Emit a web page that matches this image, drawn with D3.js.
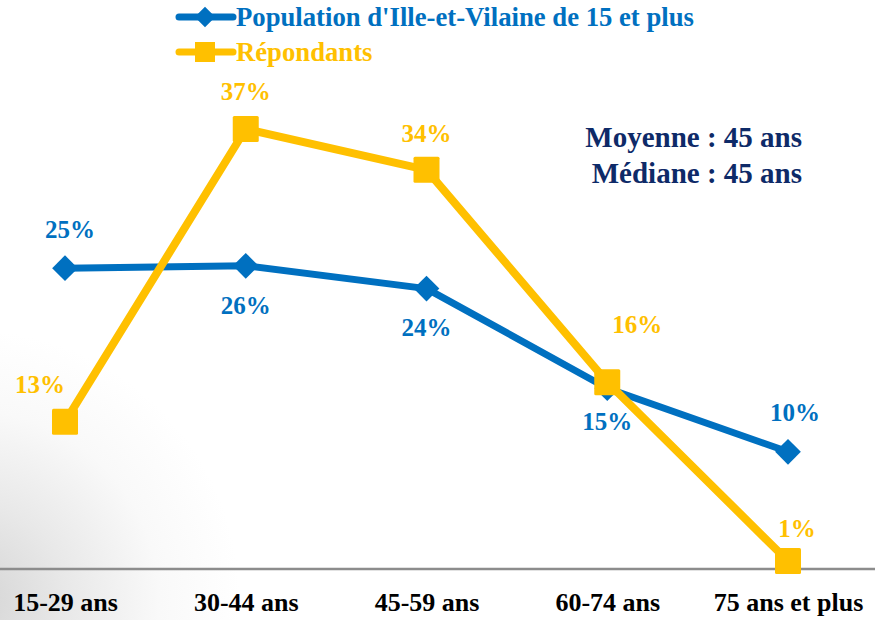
<!DOCTYPE html>
<html>
<head>
<meta charset="utf-8">
<script src="https://cdn.jsdelivr.net/npm/d3@7"></script>
<style>
  html, body { margin: 0; padding: 0; background: #fff; }
  svg { display: block; font-family: "Liberation Serif", "Times New Roman", serif; font-weight: bold; }
</style>
</head>
<body>
<svg id="chart"></svg>
<script>
  //Age groups on the x axis
  var categories = ['15-29 ans', '30-44 ans', '45-59 ans', '60-74 ans', '75 ans et plus'];
  //Population share (%) - blue series
  var population = [25.4, 25.6, 23.7, 15.4, 10.1];
  //Respondents share (%) - yellow series
  var respondents = [12.6, 37.0, 33.6, 15.9, 1.0];
  //Legend names
  var seriesNames = ["Population d'Ille-et-Vilaine de 15 et plus", 'Répondants'];
  //Summary box
  var summary = ['Moyenne : 45 ans', 'Médiane : 45 ans'];

  const width = 875;
  const height = 620;
  const blue = '#0070C0';
  const yellow = '#FFC000';
  const navy = '#0E2A68';

  const svg = d3.select('#chart')
    .attr('width', width)
    .attr('height', height);

  //faint grey shading in the bottom-left corner
  const defs = svg.append('defs');
  const grad = defs.append('radialGradient')
    .attr('id', 'corner')
    .attr('gradientUnits', 'userSpaceOnUse')
    .attr('cx', -30).attr('cy', 600).attr('r', 270);
  grad.append('stop').attr('offset', '0%').attr('stop-color', '#d4d4d4');
  grad.append('stop').attr('offset', '35%').attr('stop-color', '#e8e8e8');
  grad.append('stop').attr('offset', '70%').attr('stop-color', '#f9f9f9');
  grad.append('stop').attr('offset', '100%').attr('stop-color', '#ffffff');
  svg.append('rect').attr('width', width).attr('height', height).attr('fill', 'url(#corner)');

  //Scales
  const x = d3.scalePoint().domain(categories).range([65, 788]);
  const y = d3.scaleLinear().domain([0, 40]).range([573, 93]);

  //Axis line + labels
  const xAxis = svg.append('g')
    .attr('transform', 'translate(0,569)')
    .call(d3.axisBottom(x).tickSize(0).tickPadding(24));
  xAxis.select('.domain').remove();
  xAxis.selectAll('text')
    .attr('font-family', '"Liberation Serif", serif')
    .attr('font-weight', 'bold')
    .attr('font-size', 26)
    .attr('fill', '#000');
  svg.append('line')
    .attr('x1', 0).attr('x2', width)
    .attr('y1', 569).attr('y2', 569)
    .attr('stroke', '#8c8c8c').attr('stroke-width', 2.5);

  const line = d3.line()
    .x((d, i) => x(categories[i]))
    .y(d => y(d));

  //diamond = square turned 45 degrees
  const diamond = d3.symbol().type(d3.symbolSquare).size(330);

  //Blue series
  svg.append('path')
    .datum(population)
    .attr('fill', 'none')
    .attr('stroke', blue)
    .attr('stroke-width', 7)
    .attr('stroke-linejoin', 'round')
    .attr('d', line);
  svg.append('g').selectAll('path')
    .data(population)
    .enter().append('path')
    .attr('d', diamond)
    .attr('fill', blue)
    .attr('transform', (d, i) => `translate(${x(categories[i])},${y(d)}) rotate(45)`);

  //Yellow series
  svg.append('path')
    .datum(respondents)
    .attr('fill', 'none')
    .attr('stroke', yellow)
    .attr('stroke-width', 8)
    .attr('stroke-linejoin', 'round')
    .attr('d', line);
  svg.append('g').selectAll('rect')
    .data(respondents)
    .enter().append('rect')
    .attr('x', (d, i) => x(categories[i]) - 13)
    .attr('y', d => y(d) - 13)
    .attr('width', 26).attr('height', 26)
    .attr('rx', 1.5)
    .attr('fill', yellow);

  //label offsets from markers [dx, dy]
  const blueOffsets = [[5, -39], [0, 39], [0, 39], [0, 33], [7, -40]];
  const yellowOffsets = [[-25, -38], [0, -38], [0, -37], [30, -58], [9, -33]];

  function addLabels(values, offsets, color) {
    svg.append('g').selectAll('text')
      .data(values)
      .enter().append('text')
      .attr('x', (d, i) => x(categories[i]) + offsets[i][0])
      .attr('y', (d, i) => y(d) + offsets[i][1])
      .attr('dy', '0.35em')
      .attr('text-anchor', 'middle')
      .attr('font-size', 25)
      .attr('fill', color)
      .text(d => Math.round(d) + '%');
  }
  addLabels(population, blueOffsets, blue);
  addLabels(respondents, yellowOffsets, yellow);

  //Legend
  const legend = svg.append('g');
  const legendColors = [blue, yellow];
  seriesNames.forEach((name, i) => {
    const ly = 17 + i * 35;
    const g = legend.append('g').attr('transform', `translate(0,${ly})`);
    g.append('line')
      .attr('x1', 179).attr('x2', 233)
      .attr('stroke', legendColors[i])
      .attr('stroke-width', 7)
      .attr('stroke-linecap', 'round');
    if (i === 0) {
      g.append('path').attr('d', diamond).attr('fill', blue)
        .attr('transform', 'translate(205,0) rotate(45) scale(0.8)');
    } else {
      g.append('rect').attr('x', 195).attr('y', -10).attr('width', 20).attr('height', 20).attr('fill', yellow);
    }
    g.append('text')
      .attr('x', 236).attr('dy', '0.35em')
      .attr('font-size', 26.7)
      .attr('fill', legendColors[i])
      .text(name);
  });

  //Mean / median
  svg.append('g').selectAll('text')
    .data(summary)
    .enter().append('text')
    .attr('x', 802)
    .attr('y', (d, i) => 137 + i * 36)
    .attr('dy', '0.35em')
    .attr('text-anchor', 'end')
    .attr('font-size', 29)
    .attr('fill', navy)
    .text(d => d);
</script>
</body>
</html>
